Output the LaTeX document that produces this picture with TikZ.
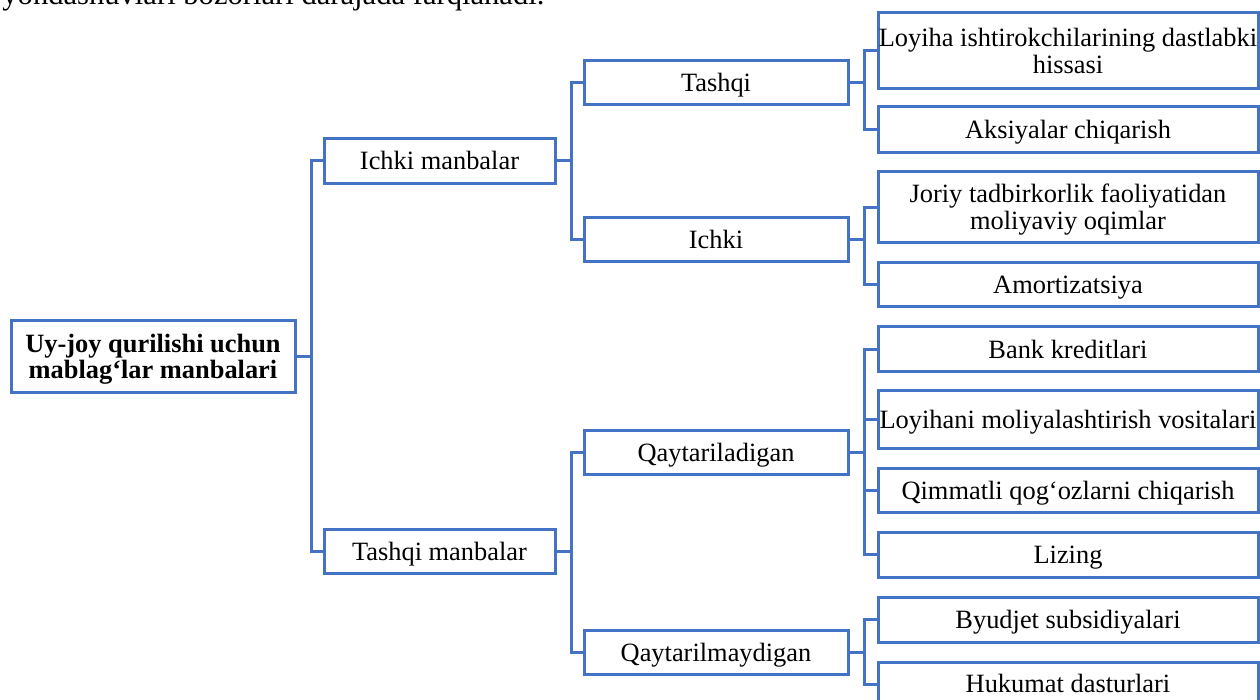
\documentclass[tikz,border=0pt]{standalone}
\usepackage{fontspec}
\setmainfont{Liberation Serif}
\definecolor{bl}{HTML}{4472C4}
\newcommand\boxtext[1]{\makebox[0pt]{\begin{tabular}[b]{@{}c@{}}#1\end{tabular}}}
\tikzset{
  box/.style={draw=bl, line width=1.5pt, inner sep=0pt, fill=white,
    font=\fontsize{13.2}{13.5}\selectfont, text height=11.8pt, text depth=2.85pt},
  two/.style={text height=25.3pt},
  rootbox/.style={box, two, minimum width=142pt, minimum height=36pt,
    font=\fontsize{13.2}{13}\bfseries\selectfont, text height=24.8pt},
  lvone/.style={box, minimum width=115.5pt, minimum height=22.25pt},
  lvtwo/.style={box, minimum width=132pt, minimum height=22pt},
  leaf/.style={box, minimum width=190pt, minimum height=#1},
  conn/.style={draw=bl, line width=1.5pt}
}
\begin{document}
\begin{tikzpicture}[x=0.5pt,y=-0.5pt]
\useasboundingbox (0,0) rectangle (1260,700);
\clip (0,0) rectangle (1260,700);
\fill[white] (0,0) rectangle (1260,700);

\node[anchor=base west, inner sep=0pt, font=\fontsize{15.3}{18}\selectfont] (head) at (2,4.5)
  {yondashuvlari bozorlari darajada farqlanadi.};

\node[rootbox] (root) at (153,357) {\boxtext{Uy-joy qurilishi uchun\\mablag‘lar manbalari}};

\node[lvone] (im) at (439.5,161) {\boxtext{Ichki manbalar}};
\node[lvone] (tm) at (439.5,551.5) {\boxtext{Tashqi manbalar}};

\node[lvtwo] (ta) at (716,83) {\boxtext{Tashqi}};
\node[lvtwo] (ic) at (716,240) {\boxtext{Ichki}};
\node[lvtwo] (qa) at (716,452.5) {\boxtext{Qaytariladigan}};
\node[lvtwo] (qm) at (716,652.5) {\boxtext{Qaytarilmaydigan}};

\node[leaf=38pt, two] (l1) at (1068,51) {\boxtext{Loyiha ishtirokchilarining dastlabki\\hissasi}};
\node[leaf=23pt] (l2) at (1068,130) {\boxtext{Aksiyalar chiqarish}};
\node[leaf=35.5pt, two] (l3) at (1068,207.5) {\boxtext{Joriy tadbirkorlik faoliyatidan\\moliyaviy oqimlar}};
\node[leaf=22pt] (l4) at (1068,285) {\boxtext{Amortizatsiya}};
\node[leaf=22.5pt] (l5) at (1068,349.5) {\boxtext{Bank kreditlari}};
\node[leaf=29pt] (l6) at (1068,420) {\boxtext{Loyihani moliyalashtirish vositalari}};
\node[leaf=22pt] (l7) at (1068,491) {\boxtext{Qimmatli qog‘ozlarni chiqarish}};
\node[leaf=22pt] (l8) at (1068,555) {\boxtext{Lizing}};
\node[leaf=22.5pt] (l9) at (1068,619.5) {\boxtext{Byudjet subsidiyalari}};
\node[leaf=22pt] (l10) at (1068,684) {\boxtext{Hukumat dasturlari}};

\foreach \c in {im,tm} \draw[conn] (root.east) -- ++(15,0) |- (\c.west);
\foreach \c in {ta,ic} \draw[conn] (im.east) -- ++(14.5,0) |- (\c.west);
\foreach \c in {qa,qm} \draw[conn] (tm.east) -- ++(14.5,0) |- (\c.west);
\foreach \c in {l1,l2} \draw[conn] (ta.east) -- ++(15,0) |- (\c.west);
\foreach \c in {l3,l4} \draw[conn] (ic.east) -- ++(15,0) |- (\c.west);
\foreach \c in {l5,l6,l7,l8} \draw[conn] (qa.east) -- ++(15,0) |- (\c.west);
\foreach \c in {l9,l10} \draw[conn] (qm.east) -- ++(15,0) |- (\c.west);
\end{tikzpicture}
\end{document}
